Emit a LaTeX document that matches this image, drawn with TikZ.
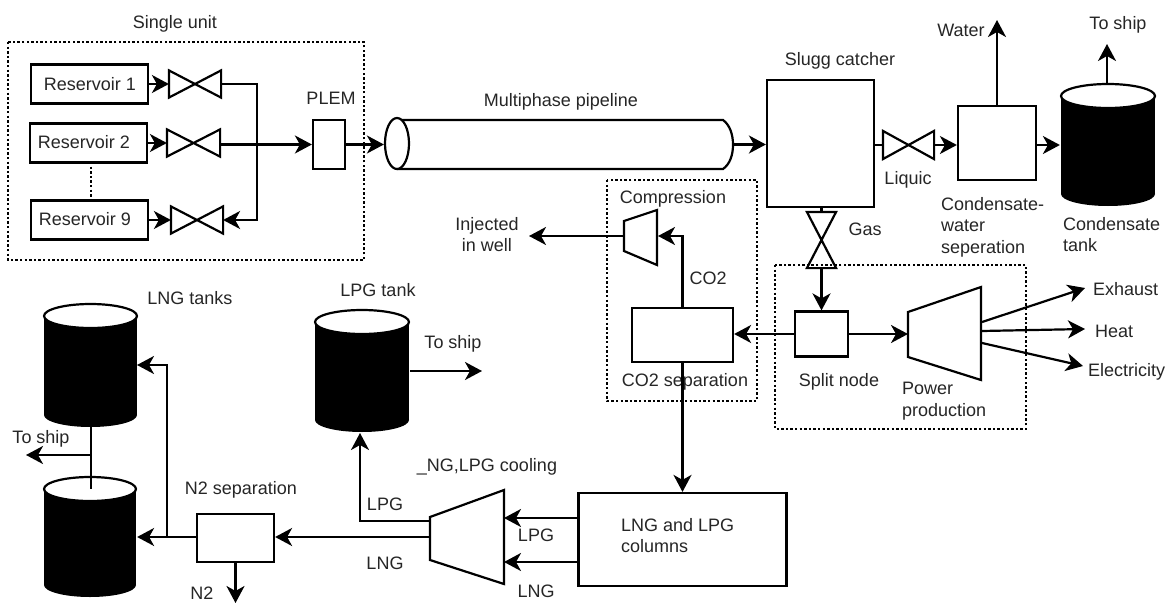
\documentclass[tikz,border=0pt]{standalone}
\usepackage{fontspec}
\setmainfont{Liberation Sans}
\usetikzlibrary{arrows.meta,calc}
\tikzset{
 x=1pt,y=-1pt,
 every path/.style={line width=2.2pt,line join=miter},
 flow/.style={-{Stealth[length=17pt,width=18pt,inset=5pt]},line width=2.2pt},
 plain/.style={line width=2.2pt},
 dot/.style={line width=2.4pt,dash pattern=on 2.4pt off 2.2pt},
 box/.style={draw,line width=2.2pt,minimum width=#1,inner sep=0pt,fill=white},
 lab/.style={font=\fontsize{18}{21.3}\selectfont,text=black!85,inner sep=0pt,align=left,yshift=-1.5pt},
 ghost/.style={inner sep=0pt,minimum width=#1},
}
\newcommand{\hvalve}[5]{% name cx cy w h
 \node[ghost=#4,minimum height=#5] (#1) at (#2,#3) {};
 \draw (#1.north west)--(#1.south east)--(#1.north east)--(#1.south west)--cycle;}
\newcommand{\tank}[5]{% name x1 ytop x2 ybot
 \node[ghost={#4-#2},minimum height={#5-#3}] (#1) at ({(#2+#4)/2},{(#3+#5)/2}) {};
 \fill[black] (#2,#3+12) rectangle (#4,#5-12);
 \fill[black] ({(#2+#4)/2},#5-12) ellipse ({(#4-#2)/2} and 12);
 \draw[fill=white] ({(#2+#4)/2},#3+12) ellipse ({(#4-#2)/2} and 12);}
\begin{document}
\begin{tikzpicture}
\useasboundingbox (0,0) rectangle (1172,605);
\fill[white] (0,0) rectangle (1172,605);
% dotted frames
\draw[dot] (8,42) rectangle (364,260);
\draw[dot] (607,180) rectangle (757,401);
\draw[dot] (775,265) rectangle (1026,429);
% reservoirs
\node[box=117pt,minimum height=39pt] (r1) at (89.5,84) {};
\node[box=117pt,minimum height=39pt] (r2) at (88.5,143) {};
\node[box=117pt,minimum height=39pt] (r9) at (89.5,220) {};
\node[lab] at (90,83) {Reservoir 1};
\node[lab] at (84,141) {Reservoir 2};
\node[lab] at (85,218) {Reservoir 9};
\draw[dot] (91,162) -- (91,200);
\hvalve{v1}{195}{84}{50pt}{25pt}
\hvalve{v2}{193.5}{143}{51pt}{25pt}
\hvalve{v9}{197}{220}{50pt}{25pt}
\draw[flow] (r1.east)--(v1.west);
\draw[flow] (r2.east)--(v2.west);
\draw[flow] (r9.east)--(v9.west);
\node[box=32pt,minimum height=49pt] (plem) at (329,144.5) {};
\coordinate (bus) at (257,144.5);
\draw[plain] (v1.east)-|(bus);
\draw[flow] (v2.east |- bus)--(plem.west);
\draw[flow] (bus)|-(v9.east);
\node[lab] at (331,97) {PLEM};
\node[lab] at (175,22) {Single unit};
% pipeline
\node[ghost=348pt,minimum height=52pt] (pipe) at (559,144.5) {};
\draw (397,120)--(723,120) .. controls (730,125) and (733,135) .. (733,144.5) .. controls (733,155) and (730,164) .. (723,169) --(397,169);
\draw[fill=white] (397,143.5) ellipse (12 and 25.5);
\draw[flow] (plem.east)--(pipe.west);
\node[lab] at (561,100) {Multiphase pipeline};
% slug catcher
\node[box=107pt,minimum height=127pt] (sc) at (820.5,143.5) {};
\node[lab] at (840,59) {Slugg catcher};
\draw[flow] (pipe.east)--(sc.west |- pipe.east);
\hvalve{lv}{908.5}{145}{49pt}{26pt}
\node[box=78pt,minimum height=74pt] (cw) at (997,143) {};
\draw[plain] (sc.east |- lv.west)--(lv.west);
\draw[flow] (lv.east)--(cw.west |- lv.east);
\node[lab] at (908,178) {Liquic};
\node[lab,anchor=north west] at (940,195) {Condensate-\\water\\seperation};
\coordinate (wat) at (997,20);
\draw[flow] (cw.north)--(wat);
\node[lab] at (961,29) {Water};
\tank{ct}{1061}{84}{1155}{206}
\draw[flow] (cw.east |- lv.east)--(ct.west |- lv.east);
\coordinate (cts) at (1107,44);
\draw[flow] (cts |- ct.north)--(cts);
\node[lab] at (1118,23) {To ship};
\node[lab,anchor=north west] at (1062,215) {Condensate\\tank};
% gas valve
\node[ghost=27pt,minimum height=54pt] (gv) at (821.5,240) {};
\draw (gv.north west)--(gv.north east)--(gv.south west)--(gv.south east)--cycle;
\draw[plain] (gv.north |- sc.south)--(gv.north);
\node[lab] at (865,228) {Gas};
% power
\node[box=53pt,minimum height=45pt] (split) at (821.5,334) {};
\draw[flow] (gv.south)--(split.north);
\node[lab] at (839,380) {Split node};
\coordinate (tl1) at (908,312); \coordinate (tl2) at (908,357);
\coordinate (tr1) at (981,287); \coordinate (tr2) at (981,380);
\draw (tl1)--(tr1)--(tr2)--(tl2)--cycle;
\coordinate (pin) at (908,334);
\draw[flow] (split.east)--(pin);
\node[lab,anchor=north west] at (901,380) {Power\\production};
\coordinate (e1) at (982,322); \coordinate (e2) at (982,331); \coordinate (e3) at (982,343);
\coordinate (x1) at (1085,288); \coordinate (x2) at (1085,329); \coordinate (x3) at (1083,366);
\draw[flow] (e1)--(x1);
\draw[flow] (e2)--(x2);
\draw[flow] (e3)--(x3);
\node[lab,anchor=west] at (1092,288) {Exhaust};
\node[lab,anchor=west] at (1094,330) {Heat};
\node[lab,anchor=west] at (1087,370) {Electricity};
% CO2
\node[box=101pt,minimum height=54pt] (co2) at (682.5,335) {};
\draw[flow] (split.west)--(co2.east |- split.west);
\node[lab] at (685,380) {CO2 separation};
\coordinate (cl1) at (624,221); \coordinate (cl2) at (624,251);
\coordinate (cr1) at (657,210); \coordinate (cr2) at (657,265);
\draw (cl1)--(cr1)--(cr2)--(cl2)--cycle;
\coordinate (cin) at (658,236); \coordinate (cout) at (624,236); \coordinate (inj) at (529,236);
\draw[flow] (co2.north)|-(cin);
\draw[flow] (cout)--(inj);
\node[lab] at (673,197) {Compression};
\node[lab] at (708,277) {CO2};
\node[lab,align=center] at (487,233) {Injected\\in well};
% columns
\node[box=208pt,minimum height=93pt] (col) at (682.5,539.5) {};
\draw[flow] (co2.south)--(col.north);
\node[lab,anchor=north west] at (620,516) {LNG and LPG\\columns};
\coordinate (l1) at (430,517); \coordinate (l2) at (430,560);
\coordinate (r1c) at (504,490); \coordinate (r2c) at (504,584);
\draw (l1)--(r1c)--(r2c)--(l2)--cycle;
\coordinate (a1) at (504,518); \coordinate (a2) at (504,562);
\draw[flow] (col.west |- a1)--(a1);
\draw[flow] (col.west |- a2)--(a2);
\node[lab] at (536,534) {LPG};
\node[lab] at (536,590) {LNG};
\node[lab] at (487,465) {\_NG,LPG cooling};
% LPG tank
\tank{lpg}{315}{310}{409}{432}
\coordinate (lps) at (482,371);
\draw[flow] (lpg.east |- lps)--(lps);
\node[lab] at (453,342) {To ship};
\node[lab] at (378,289) {LPG tank};
\coordinate (cl) at (430,521);
\draw[flow] (cl)--(360,521)--(360,433);
\node[lab] at (385,503) {LPG};
% N2
\node[box=77pt,minimum height=48pt] (n2) at (235.5,538) {};
\coordinate (cl3) at (430,537);
\draw[flow] (cl3)--(n2.east |- cl3);
\node[lab] at (385,562) {LNG};
\node[lab] at (241,488) {N2 separation};
\coordinate (n2o) at (235.5,603);
\draw[flow] (n2.south)--(n2o);
\node[lab] at (202,592) {N2};
% LNG tanks
\tank{t1}{44}{304}{137}{427}
\tank{t2}{44}{477}{136}{597}
\coordinate (bx) at (167,537);
\draw[flow] (n2.west |- bx)--(t2.east |- bx);
\draw[flow] (bx)--(167,365)--(137,365);
\coordinate (j) at (91,455); \coordinate (ts) at (26,455);
\draw[plain] (91,427)--(91,489);
\draw[flow] (j)--(ts);
\node[lab] at (41,437) {To ship};
\node[lab] at (190,297) {LNG tanks};
\end{tikzpicture}
\end{document}
